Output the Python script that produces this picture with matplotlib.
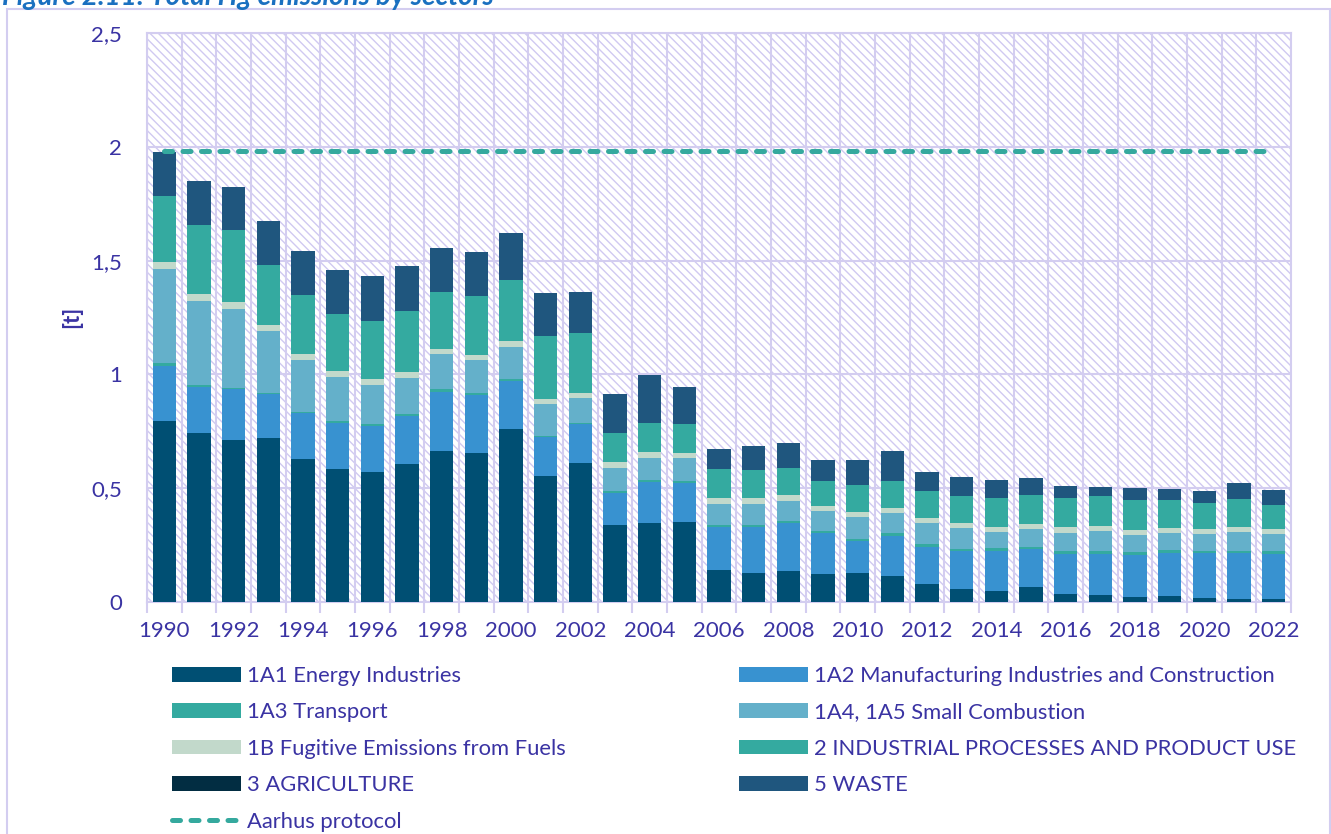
import matplotlib
matplotlib.use('Agg')
from matplotlib import pyplot as plt
from matplotlib.patches import Rectangle
from matplotlib.ticker import FuncFormatter, FixedLocator
import numpy as np

years = list(range(1990, 2023))

# Hg emissions per sector, tonnes
e_1a1 = [0.797, 0.744, 0.713, 0.721, 0.630, 0.586, 0.573, 0.608, 0.665, 0.655, 0.762, 0.555, 0.612,
         0.338, 0.349, 0.353, 0.142, 0.127, 0.135, 0.124, 0.129, 0.116, 0.080, 0.059, 0.050, 0.064,
         0.034, 0.029, 0.022, 0.025, 0.019, 0.015, 0.015]
e_1a2 = [0.240, 0.202, 0.221, 0.193, 0.200, 0.199, 0.199, 0.208, 0.259, 0.254, 0.210, 0.169, 0.169,
         0.142, 0.180, 0.170, 0.186, 0.201, 0.211, 0.178, 0.138, 0.175, 0.163, 0.164, 0.175, 0.167,
         0.178, 0.183, 0.184, 0.189, 0.195, 0.199, 0.195]
e_1a3 = [0.012, 0.006, 0.008, 0.006, 0.006, 0.009, 0.009, 0.009, 0.012, 0.009, 0.009, 0.007, 0.007,
         0.009, 0.008, 0.010, 0.012, 0.012, 0.011, 0.011, 0.011, 0.013, 0.013, 0.011, 0.011, 0.012,
         0.012, 0.012, 0.015, 0.013, 0.011, 0.011, 0.014]
e_1a4 = [0.414, 0.372, 0.347, 0.271, 0.229, 0.195, 0.174, 0.161, 0.155, 0.144, 0.141, 0.140, 0.110,
         0.101, 0.097, 0.098, 0.092, 0.089, 0.088, 0.088, 0.097, 0.087, 0.090, 0.093, 0.072, 0.079,
         0.079, 0.089, 0.075, 0.078, 0.075, 0.083, 0.075]
e_1b = [0.032, 0.031, 0.028, 0.025, 0.026, 0.024, 0.025, 0.023, 0.021, 0.022, 0.023, 0.022, 0.022,
        0.024, 0.026, 0.025, 0.025, 0.027, 0.024, 0.021, 0.022, 0.023, 0.022, 0.020, 0.020, 0.022,
        0.025, 0.022, 0.022, 0.020, 0.021, 0.022, 0.022]
e_2 = [0.289, 0.300, 0.316, 0.265, 0.258, 0.252, 0.256, 0.270, 0.250, 0.260, 0.268, 0.274, 0.263,
       0.129, 0.126, 0.126, 0.127, 0.124, 0.120, 0.111, 0.117, 0.119, 0.121, 0.119, 0.128, 0.127,
       0.129, 0.129, 0.129, 0.124, 0.115, 0.124, 0.107]
e_3 = [0.0, 0.0, 0.0, 0.0, 0.0, 0.0, 0.0, 0.0, 0.0, 0.0, 0.0, 0.0, 0.0,
       0.0, 0.0, 0.0, 0.0, 0.0, 0.0, 0.0, 0.0, 0.0, 0.0, 0.0, 0.0, 0.0,
       0.0, 0.0, 0.0, 0.0, 0.0, 0.0, 0.0]
e_5 = [0.194, 0.194, 0.192, 0.193, 0.195, 0.192, 0.196, 0.197, 0.193, 0.195, 0.208, 0.189, 0.180,
       0.171, 0.213, 0.161, 0.088, 0.105, 0.108, 0.092, 0.110, 0.132, 0.081, 0.082, 0.081, 0.074,
       0.054, 0.040, 0.053, 0.046, 0.052, 0.068, 0.064]
aarhus_level = 1.98

sectors = [
    ('1A1 Energy Industries', e_1a1, '#004f73'),
    ('1A2 Manufacturing Industries and Construction', e_1a2, '#3892d0'),
    ('1A3 Transport', e_1a3, '#34aaa0'),
    ('1A4, 1A5 Small Combustion', e_1a4, '#64b0ca'),
    ('1B Fugitive Emissions from Fuels', e_1b, '#c2d9cb'),
    ('2 INDUSTRIAL PROCESSES AND PRODUCT USE', e_2, '#34aaa0'),
    ('3 AGRICULTURE', e_3, '#022d42'),
    ('5 WASTE', e_5, '#1f567e'),
]

TXT = '#3a33a3'
LAV = '#d3cdf0'
FS = 16
LFS = 15.8
plt.rcParams['font.family'] = ['Lato', 'DejaVu Sans']
plt.rcParams['hatch.linewidth'] = 1.0

W, H = 1331, 834
fig = plt.figure(figsize=(W / 100, H / 100), dpi=100)
ax = fig.add_axes([147 / W, 1 - 602 / H, (1291 - 147) / W, (602 - 33) / H])

x = np.arange(len(years))
ax.add_patch(Rectangle((0, 0), 1, 1, transform=ax.transAxes, facecolor='white',
                       edgecolor='#d0c9f1', hatch='\\\\\\\\', lw=0, zorder=0))

handles = {}
bottom = np.zeros(len(years))
for name, vals, col in sectors:
    v = np.array(vals)
    handles[name] = ax.bar(x, v, width=0.67, bottom=bottom, color=col, zorder=3, label=name)
    bottom += v

aar, = ax.plot(x, [aarhus_level] * len(x), color='#35a99e', lw=3.6, dashes=(1.6, 2.1),
               dash_capstyle='round', zorder=4, label='Aarhus protocol')

ax.set_xlim(-0.5, len(years) - 0.5)
ax.set_ylim(0, 2.5)
ax.set_yticks([0, 0.5, 1, 1.5, 2, 2.5])
ax.yaxis.set_major_formatter(FuncFormatter(lambda v, p: ('%g' % v).replace('.', ',')))
ax.set_xticks(x[::2])
ax.set_xticklabels([str(y) for y in years[::2]])
ax.xaxis.set_minor_locator(FixedLocator(np.arange(-0.5, len(years), 1)))
ax.tick_params(axis='x', which='major', length=0, pad=14, labelsize=FS, labelcolor=TXT)
ax.tick_params(axis='x', which='minor', length=8, width=1.5, color=LAV)
ax.tick_params(axis='y', length=0, pad=18, labelsize=FS, labelcolor=TXT)
ax.grid(True, which='minor', axis='x', color=LAV, lw=1.5, zorder=1)
ax.grid(True, which='major', axis='y', color=LAV, lw=1.5, zorder=1)
ax.set_axisbelow(True)
for s in ax.spines.values():
    s.set_color(LAV)
    s.set_linewidth(1.5)

fig.text(72 / W, 1 - 317 / H, '[t]', rotation=90, ha='center', va='center',
         fontsize=FS, fontweight='bold', color=TXT)

# caption is cut off at the top edge, as in the source image
fig.text(2 / W, 1 - 5 / H, 'Figure 2.11: Total Hg emissions by sectors', ha='left', va='baseline',
         fontsize=20, fontweight='bold', fontstyle='italic', color='#1a70c0')
fig.add_artist(Rectangle((7 / W, -0.05), (1330 - 7) / W, (H - 9) / H + 0.05, transform=fig.transFigure,
                         fill=False, edgecolor=LAV, lw=1.5))

col1 = ['1A1 Energy Industries', '1A3 Transport', '1B Fugitive Emissions from Fuels', '3 AGRICULTURE']
col2 = ['1A2 Manufacturing Industries and Construction', '1A4, 1A5 Small Combustion',
        '2 INDUSTRIAL PROCESSES AND PRODUCT USE', '5 WASTE']
kw = dict(loc='upper left', frameon=False, fontsize=LFS, labelcolor=TXT, borderpad=0,
          borderaxespad=0, handlelength=3.13, handleheight=0.64, handletextpad=0.27, labelspacing=0.75)
l1 = fig.legend([handles[n] for n in col1] + [aar], col1 + ['Aarhus protocol'],
                bbox_to_anchor=(172 / W, 1 - 666 / H), **kw)
l2 = fig.legend([handles[n] for n in col2], col2, bbox_to_anchor=(739 / W, 1 - 666 / H), **kw)

fig.savefig('out.png', dpi=100)
